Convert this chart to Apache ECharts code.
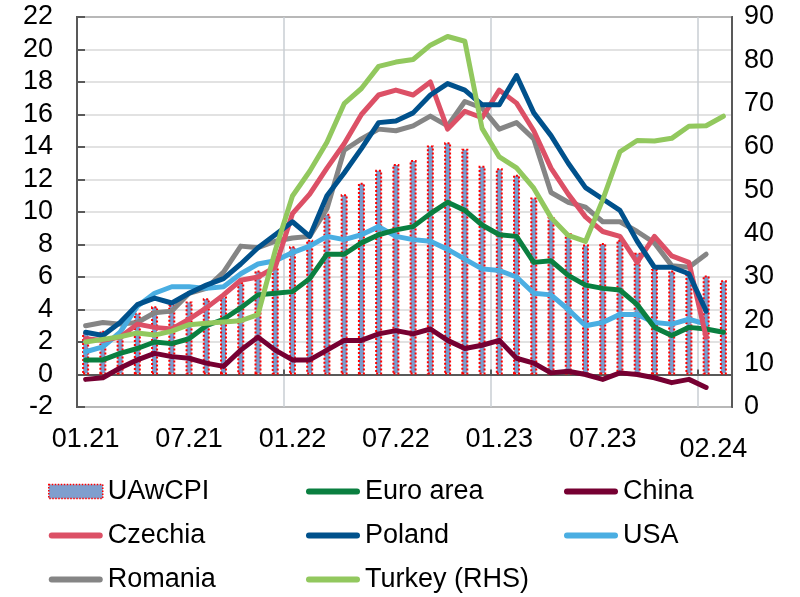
<!DOCTYPE html>
<html>
<head>
<meta charset="utf-8">
<script src="https://cdn.jsdelivr.net/npm/echarts@6/dist/echarts.min.js"></script>
<style>
  html, body { margin: 0; padding: 0; background: #fff; }
  #main { width: 800px; height: 597px; }
</style>
</head>
<body>
<div id="main"></div>
<script>
const months = ['01.21', '02.21', '03.21', '04.21', '05.21', '06.21', '07.21', '08.21', '09.21', '10.21', '11.21', '12.21',
    '01.22', '02.22', '03.22', '04.22', '05.22', '06.22', '07.22', '08.22', '09.22', '10.22', '11.22', '12.22',
    '01.23', '02.23', '03.23', '04.23', '05.23', '06.23', '07.23', '08.23', '09.23', '10.23', '11.23', '12.23',
    '01.24', '02.24']

// left axis, %
const uawcpi = [2.6, 2.7, 2.3, 3.8, 4.2, 4.3, 4.5, 4.7, 4.8, 5.7, 6.4, 6.6, 7.9, 8.3, 9.9, 11.1, 11.8, 12.6, 12.95, 13.2,
    14.1, 14.3, 13.9, 12.85, 12.7, 12.3, 10.9, 9.7, 8.7, 8.0, 8.1, 8.3, 7.5, 6.5, 6.4, 6.2, 6.1, 5.8]
const euroArea = [0.9, 0.9, 1.3, 1.6, 2.0, 1.9, 2.2, 3.0, 3.4, 4.1, 4.9, 5.0, 5.1, 5.9, 7.4, 7.4, 8.1, 8.6, 8.9, 9.1,
    9.9, 10.6, 10.1, 9.2, 8.6, 8.5, 6.9, 7.0, 6.1, 5.5, 5.3, 5.2, 4.3, 2.9, 2.4, 2.9, 2.8, 2.6]
const china = [-0.3, -0.2, 0.4, 0.9, 1.3, 1.1, 1.0, 0.7, 0.5, 1.5, 2.3, 1.5, 0.9, 0.9, 1.5, 2.1, 2.1, 2.5, 2.7, 2.5,
    2.8, 2.1, 1.6, 1.8, 2.1, 1.0, 0.7, 0.1, 0.2, 0.0, -0.3, 0.1, 0.0, -0.2, -0.5, -0.3, -0.8]
const czechia = [2.2, 2.1, 2.3, 3.1, 2.9, 2.8, 3.4, 4.1, 4.9, 5.8, 6.0, 6.6, 9.9, 11.1, 12.7, 14.2, 16.0, 17.2, 17.5, 17.2,
    18.0, 15.1, 16.2, 15.8, 17.5, 16.7, 15.0, 12.7, 11.1, 9.7, 8.8, 8.5, 6.9, 8.5, 7.3, 6.9, 2.3]
const poland = [2.6, 2.4, 3.2, 4.3, 4.7, 4.4, 5.0, 5.5, 5.9, 6.8, 7.8, 8.6, 9.4, 8.5, 11.0, 12.4, 13.9, 15.5, 15.6, 16.1,
    17.2, 17.9, 17.5, 16.6, 16.6, 18.4, 16.1, 14.7, 13.0, 11.5, 10.8, 10.1, 8.2, 6.6, 6.6, 6.2, 3.9]
const usa = [1.4, 1.7, 2.6, 4.2, 5.0, 5.4, 5.4, 5.3, 5.4, 6.2, 6.8, 7.0, 7.5, 7.9, 8.5, 8.3, 8.6, 9.1, 8.5, 8.3,
    8.2, 7.7, 7.1, 6.5, 6.4, 6.0, 5.0, 4.9, 4.0, 3.0, 3.2, 3.7, 3.7, 3.2, 3.1, 3.4, 3.1]
const romania = [3.0, 3.2, 3.1, 3.2, 3.8, 3.9, 5.0, 5.3, 6.3, 7.9, 7.8, 8.2, 8.4, 8.5, 10.2, 13.8, 14.5, 15.1, 15.0, 15.3,
    15.9, 15.3, 16.8, 16.4, 15.1, 15.5, 14.5, 11.2, 10.6, 10.3, 9.4, 9.4, 8.8, 8.1, 6.7, 6.6, 7.4]
// right axis, %
const turkey = [15.0, 15.6, 16.2, 17.1, 16.6, 17.5, 19.0, 19.3, 19.6, 19.9, 21.3, 36.1, 48.7, 54.4, 61.1, 70.0, 73.5, 78.6, 79.6, 80.2,
    83.5, 85.5, 84.4, 64.3, 57.7, 55.2, 50.5, 43.7, 39.6, 38.2, 47.8, 58.9, 61.5, 61.4, 62.0, 64.8, 64.9, 67.1]

const font = 'Liberation Sans, Arial, sans-serif'
const axisGrey = '#595959'
// thick rounded stroke for the line legend items
const lineIcon = 'path://M3,0H52A3,3,0,0,1,52,6H3A3,3,0,0,1,3,0Z'

const myChart = echarts.init(document.getElementById('main'))

function lineSeries(name, data, color, yAxisIndex) {
    return {
        name: name,
        type: 'line',
        data: data,
        yAxisIndex: yAxisIndex || 0,
        symbol: 'none',
        lineStyle: { color: color, width: 5, cap: 'round', join: 'round' },
        itemStyle: { color: color },
        z: 3
    }
}

function legendColumn(left, items) {
    return {
        left: left, top: 478, height: 140, padding: 0,
        orient: 'vertical', itemWidth: 54, itemHeight: 14, itemGap: 17,
        textStyle: { fontFamily: font, fontSize: 27, color: '#000' },
        data: items
    }
}

myChart.setOption({
    animation: false,
    grid: {
        left: 77, right: 68, top: 17, bottom: 190,
        show: true, borderColor: axisGrey, borderWidth: 2
    },
    legend: [
        legendColumn(48, [
            { name: 'UAwCPI', icon: 'rect', itemStyle: { color: '#7f9fce', borderColor: '#ff0000', borderWidth: 1.5, borderType: 'dotted' } },
            { name: 'Czechia', icon: lineIcon },
            { name: 'Romania', icon: lineIcon }
        ]),
        legendColumn(306, [
            { name: 'Euro area', icon: lineIcon },
            { name: 'Poland', icon: lineIcon },
            { name: 'Turkey (RHS)', icon: lineIcon }
        ]),
        legendColumn(564, [
            { name: 'China', icon: lineIcon },
            { name: 'USA', icon: lineIcon }
        ])
    ],
    xAxis: [
        {
            type: 'category',
            data: months,
            boundaryGap: true,
            axisLine: { onZero: true, onZeroAxisIndex: 0, lineStyle: { color: axisGrey, width: 2 } },
            axisTick: { show: true, interval: 11, inside: true, length: 5, lineStyle: { color: axisGrey, width: 2 } },
            axisLabel: { show: false },
            splitLine: { show: true, interval: 11, lineStyle: { color: '#c9ced3', width: 1.5 } }
        },
        {
            type: 'category',
            data: months,
            position: 'bottom',
            boundaryGap: true,
            axisLine: { show: false, onZero: false },
            axisTick: { show: false },
            splitLine: { show: false },
            axisLabel: {
                margin: 19,
                fontFamily: font,
                fontSize: 27,
                color: '#000',
                interval: (index) => (index % 6 === 0 && index < 36) || index === 37,
                formatter: (value) => value === '02.24' ? '{s|' + value + '}' : value,
                rich: { s: { fontFamily: font, fontSize: 27, color: '#000', padding: [10, 20, 0, 0] } }
            }
        }
    ],
    yAxis: [
        {
            type: 'value',
            min: -2, max: 22, interval: 2,
            axisLine: { show: true, lineStyle: { color: axisGrey, width: 2 } },
            axisTick: { show: true, inside: true, length: 8, lineStyle: { color: axisGrey, width: 2 } },
            axisLabel: { margin: 24, fontFamily: font, fontSize: 27, color: '#000' },
            splitLine: { show: true, lineStyle: { color: '#d9d9d9', width: 1.5 } }
        },
        {
            type: 'value',
            min: 0, max: 90, interval: 10,
            axisLine: { show: true, lineStyle: { color: axisGrey, width: 2 } },
            axisTick: { show: false },
            axisLabel: { margin: 12, fontFamily: font, fontSize: 27, color: '#000' },
            splitLine: { show: false }
        }
    ],
    series: [
        {
            name: 'UAwCPI',
            type: 'bar',
            data: uawcpi,
            barWidth: 7,
            itemStyle: { color: '#7b9bcc', borderColor: '#ff0000', borderWidth: 2, borderType: 'dotted' },
            z: 2
        },
        lineSeries('Romania', romania, '#858585'),
        lineSeries('USA', usa, '#4aaee2'),
        lineSeries('Euro area', euroArea, '#0a7f40'),
        lineSeries('China', china, '#760032'),
        lineSeries('Czechia', czechia, '#dc5066'),
        lineSeries('Poland', poland, '#00518c'),
        lineSeries('Turkey (RHS)', turkey, '#92c85e', 1)
    ]
})
</script>
</body>
</html>
